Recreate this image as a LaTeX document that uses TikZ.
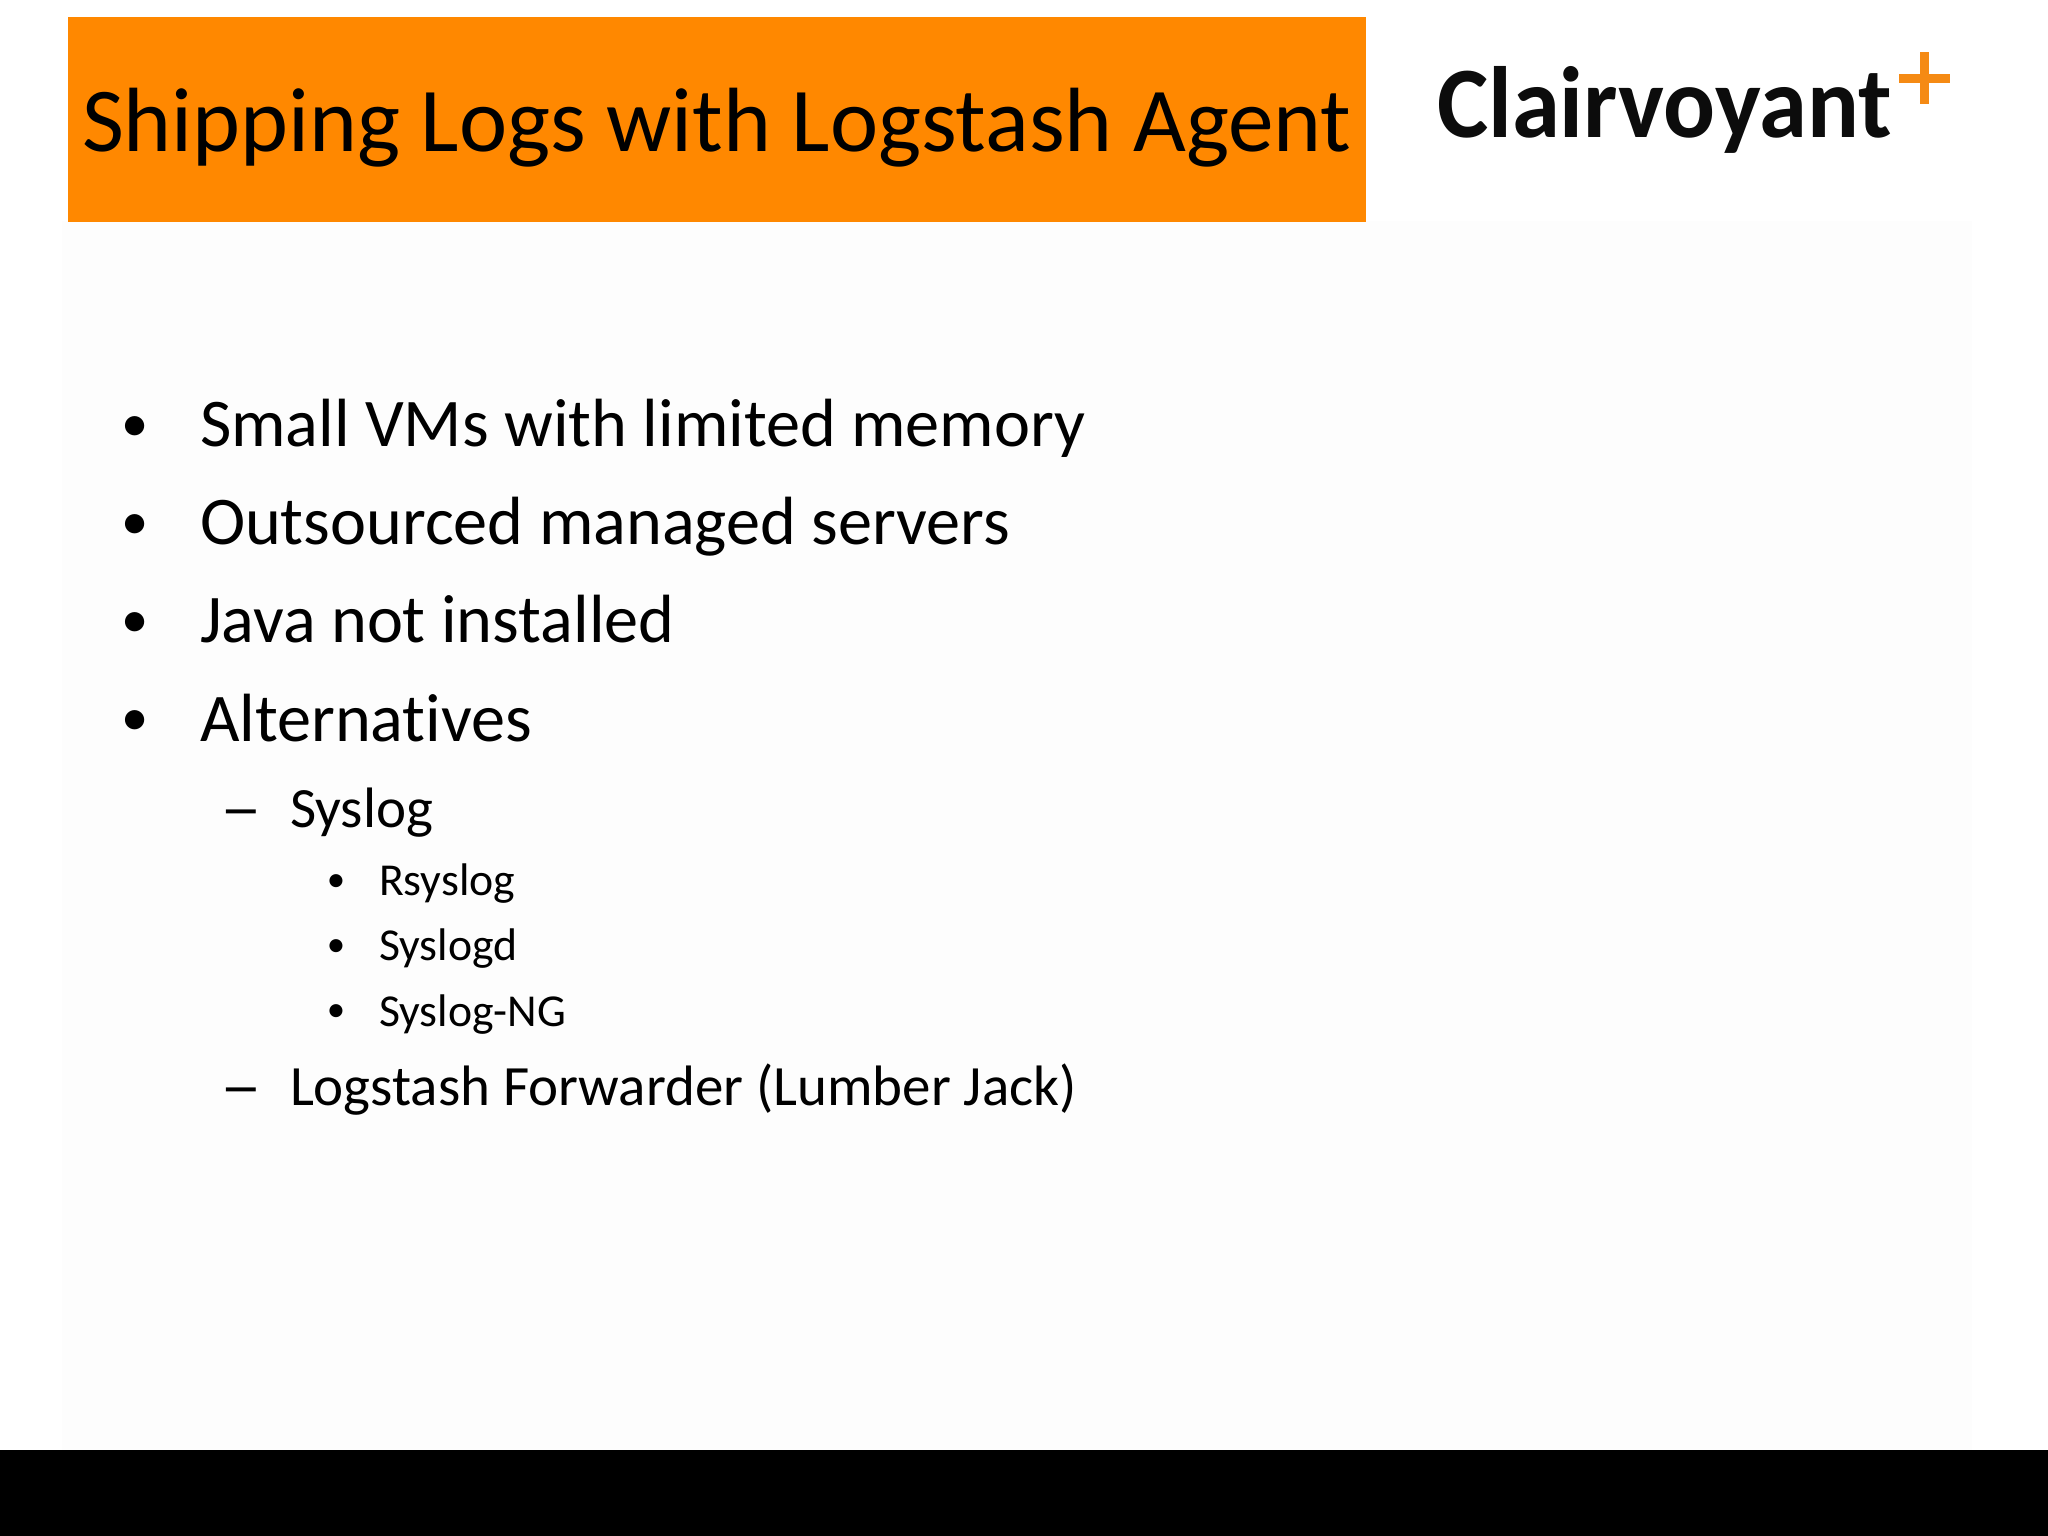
\documentclass[tikz,border=0pt]{standalone}
\usepackage{graphicx}
\usepackage{fontspec}
\setmainfont{Carlito}
\definecolor{bar}{HTML}{FF8800}
\definecolor{plus}{HTML}{F58A14}
\definecolor{ink}{HTML}{0C0C0C}
\definecolor{pale}{HTML}{FDFDFD}
\newcommand{\pxfont}[1]{\fontsize{#1}{#1}\selectfont}
\newcommand{\longdash}{\scalebox{1.32}[1]{–}}
\tikzset{
  txt/.style={anchor=base west,inner sep=0pt,outer sep=0pt,text=black},
  lvla/.style={txt,font=\pxfont{19.4pt}},
  lvlb/.style={txt,font=\pxfont{16.2pt}},
  lvlc/.style={txt,font=\pxfont{13pt}},
  mark1/.style={anchor=base,inner sep=0pt,font=\pxfont{15.5pt}},
  mark2/.style={anchor=base,inner sep=0pt,font=\pxfont{18pt}},
  mark3/.style={anchor=base,inner sep=0pt,font=\pxfont{10.5pt}},
}
\begin{document}
\begin{tikzpicture}[x=0.01cm,y=-0.01cm]
\useasboundingbox (0,0) rectangle (2048,1536);
\fill[white] (0,0) rectangle (2048,1536);
\fill[pale] (62,221) rectangle (1972,1450);
\fill[black] (0,1450) rectangle (2048,1536);
\fill[bar] (68,17) rectangle (1366,222);
\node[txt,font=\pxfont{25.95pt}] (title) at (82,151) {Shipping Logs with Logstash Agent};
\node[txt,text=ink,font=\bfseries\pxfont{28.8pt}] (logo) at (1437,137) {\scalebox{.956}[1]{Clairvoyant}};
\fill[plus] (1919.5,52) rectangle (1928.5,104);
\fill[plus] (1899,73.5) rectangle (1950,82.5);
\node[mark1] (b1) at (135,441) {•};
\node[lvla] (t1) at (200,446) {Small VMs with limited memory};
\node[mark1] (b2) at (135,539) {•};
\node[lvla] (t2) at (200,544) {Outsourced managed servers};
\node[mark1] (b3) at (135,637) {•};
\node[lvla] (t3) at (200,642) {Java not installed};
\node[mark1] (b4) at (135,735) {•};
\node[lvla] (t4) at (200,741) {Alternat\kern0pt ives};
\node[mark2] (d1) at (241,829) {\longdash};
\node[lvlb] (t5) at (290,827) {Syslog};
\node[mark3] (b5) at (336,891) {•};
\node[lvlc] (t6) at (379,895) {Rsyslog};
\node[mark3] (b6) at (336,956) {•};
\node[lvlc] (t7) at (379,960) {Syslogd};
\node[mark3] (b7) at (336,1021) {•};
\node[lvlc] (t8) at (379,1026) {Syslog-NG};
\node[mark2] (d2) at (241,1107) {\longdash};
\node[lvlb] (t9) at (290,1105) {Logstash Forwarder (Lumber Jack)};
\end{tikzpicture}
\end{document}
